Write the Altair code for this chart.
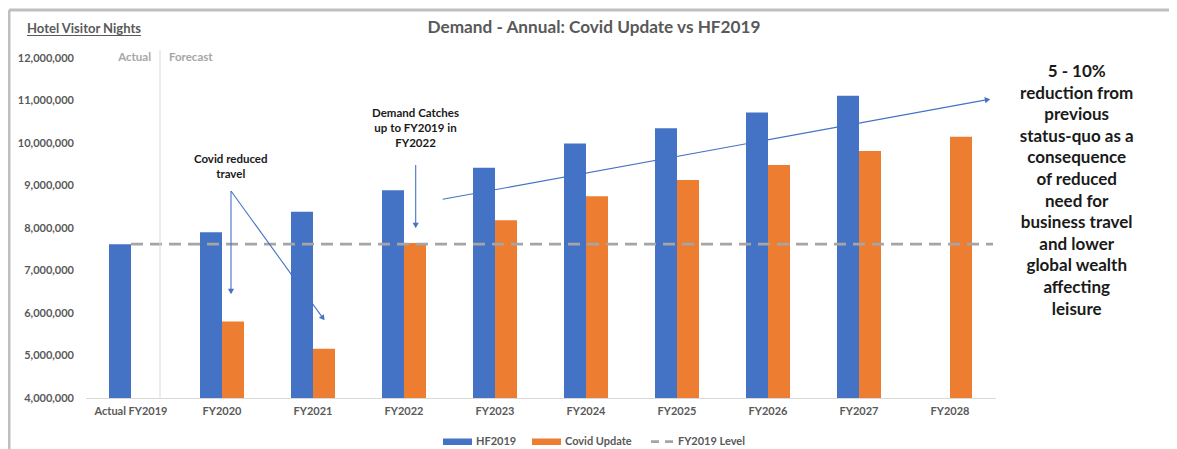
import math
import altair as alt
import pandas as pd

# ---------------- data ----------------
categories = ["Actual FY2019", "FY2020", "FY2021", "FY2022", "FY2023",
              "FY2024", "FY2025", "FY2026", "FY2027", "FY2028"]
series = ["HF2019", "Covid Update"]
hf2019 = [7620000, 7900000, 8380000, 8890000, 9420000,
          9990000, 10350000, 10720000, 11110000, None]
covid_update = [None, 5800000, 5160000, 7650000, 8180000,
                8750000, 9130000, 9480000, 9810000, 10150000]
fy2019_level = 7620000
level_label = "FY2019 Level"
y_ticks = [4000000, 5000000, 6000000, 7000000, 8000000,
           9000000, 10000000, 11000000, 12000000]

title_text = "Demand - Annual: Covid Update vs HF2019"
axis_title = "Hotel Visitor Nights"
actual_text = "Actual"
forecast_text = "Forecast"
note_covid = ["Covid reduced", "travel"]
note_catch = ["Demand Catches", "up to FY2019 in", "FY2022"]
note_right = ["5 - 10%", "reduction from", "previous", "status-quo as a",
              "consequence", "of reduced", "need for", "business travel",
              "and lower", "global wealth", "affecting", "leisure"]

# ---------------- styles / layout ----------------
COLORS = ["#4472C4", "#ED7D31"]
LEVEL_COLOR = "#A5A5A5"
GREY_TXT = "#595959"
FONT = "Lato"
W, H = 910, 340
OX, OY = 85.5, 58.0          # page position of the plot origin
TOTAL_W, TOTAL_H = 1161, 441
PAD = {"left": OX - 8, "top": OY - 8,
       "right": TOTAL_W - (OX - 8) - W, "bottom": TOTAL_H - (OY - 8) - H}


def px(x):
    return x - OX


def py(y):
    return y - OY


rows = []
for c, h, v in zip(categories, hf2019, covid_update):
    if h is not None:
        rows.append({"category": c, "series": series[0], "value": h})
    if v is not None:
        rows.append({"category": c, "series": series[1], "value": v})
bars_df = pd.DataFrame(rows)
level_df = pd.DataFrame({"category": [categories[0]], "level": [fy2019_level]})
dummy = pd.DataFrame({"k": [0]})

x_scale = alt.Scale(domain=categories, paddingInner=0.5165, paddingOuter=0.25825)
y_scale = alt.Scale(domain=[4000000, 12000000], zero=False, nice=False)

bars = alt.Chart(bars_df).mark_bar(clip=True).encode(
    x=alt.X("category:N", sort=categories, scale=x_scale,
            axis=alt.Axis(title=None, labelAngle=0, labelFont=FONT, labelFontSize=11,
                          labelFontWeight="bold", labelColor=GREY_TXT, ticks=False,
                          domainColor="#D9D9D9", domainWidth=1, labelPadding=7)),
    xOffset=alt.XOffset("series:N", sort=series,
                        scale=alt.Scale(domain=series, paddingInner=0, paddingOuter=0)),
    y=alt.Y("value:Q", scale=y_scale,
            axis=alt.Axis(title=None, values=y_ticks, format=",.0f", grid=False,
                          domain=False, ticks=False, labelPadding=12, labelFont=FONT,
                          labelFontSize=11, labelFontWeight="bold", labelColor=GREY_TXT)),
    color=alt.Color("series:N", scale=alt.Scale(domain=series, range=COLORS), legend=None),
)

level_rule = alt.Chart(level_df).mark_rule(
    color=LEVEL_COLOR, strokeWidth=2.75, strokeDash=[12, 7]
).encode(
    x=alt.X("category:N", sort=categories, scale=x_scale, bandPosition=0.5),
    x2=alt.value(px(993)),
    y=alt.Y("level:Q", scale=y_scale),
)


def rule(x1, y1, x2, y2, color, width=1.0, dash=None):
    kw = {"color": color, "strokeWidth": width}
    if dash:
        kw["strokeDash"] = dash
    return alt.Chart(dummy).mark_rule(**kw).encode(
        x=alt.value(px(x1)), y=alt.value(py(y1)),
        x2=alt.value(px(x2)), y2=alt.value(py(y2)))


def text(x, y, t, size, color, weight="bold", align="center", lh=None, baseline="middle"):
    # for multi-line texts y is the centre of the first line
    kw = dict(text=t, fontSize=size, color=color, fontWeight=weight, font=FONT,
              align=align, baseline=baseline)
    if lh:
        kw["lineHeight"] = lh
    return alt.Chart(dummy).mark_text(**kw).encode(x=alt.value(px(x)), y=alt.value(py(y)))


def arrow(x1, y1, x2, y2, color="#4472C4"):
    dx, dy = x2 - x1, y2 - y1
    ang = math.degrees(math.atan2(dx, -dy)) % 360
    L = math.hypot(dx, dy)
    hx, hy = x2 - dx / L * 3.5, y2 - dy / L * 3.5
    line = rule(x1, y1, hx, hy, color, 1.1)
    head = alt.Chart(dummy).mark_point(shape="triangle-up", filled=True, color=color,
                                       size=38, angle=ang, opacity=1).encode(
        x=alt.value(px(hx)), y=alt.value(py(hy)))
    return [line, head]


layers = [bars, level_rule]

# frame
layers.append(rule(9, 10, 1177, 10, "#BFBFBF", 3))
layers.append(rule(9, 10, 9, 449, "#BFBFBF", 3))
# actual / forecast divider
layers.append(rule(160, 50, 160, 398, "#D9D9D9", 1))

# texts
layers.append(text(594, 28, title_text, 17.2, GREY_TXT))
layers.append(text(27, 29, axis_title, 13, GREY_TXT, align="left"))
layers.append(rule(27, 35.5, 141, 35.5, GREY_TXT, 1))
layers.append(text(151, 58, actual_text, 11.5, "#A6A6A6", align="right"))
layers.append(text(169, 58, forecast_text, 11.5, "#A6A6A6", align="left"))
layers.append(text(230.7, 160, note_covid, 11.5, "#1A1A1A", lh=15))
layers.append(text(415.5, 114, note_catch, 11.5, "#1A1A1A", lh=15.2))
layers.append(text(1076.7, 72, note_right, 17, "#1A1A1A", lh=21.6))

# arrows
layers += arrow(231, 191, 231, 295)
layers += arrow(231, 191, 325, 321)
layers += arrow(415.7, 165, 415.7, 229)
layers += arrow(442.7, 199.3, 991, 99)

# legend
legend_items = series + [level_label]
legend_swatch_x = [443, 532, 651]
legend_text_x = [476, 565, 678]
for i, lab in enumerate(legend_items):
    sx = legend_swatch_x[i]
    if i < 2:
        layers.append(alt.Chart(dummy).mark_rect(color=COLORS[i]).encode(
            x=alt.value(px(sx)), x2=alt.value(px(sx + 29)),
            y=alt.value(py(438.5)), y2=alt.value(py(445))))
    else:
        layers.append(rule(sx, 441.7, sx + 22, 441.7, LEVEL_COLOR, 2.75, [8, 6]))
    layers.append(text(legend_text_x[i], 441.7, lab, 11, GREY_TXT, align="left"))

chart = alt.layer(*layers).properties(
    width=W, height=H, padding=PAD,
    autosize=alt.AutoSizeParams(type="none"),
    background="white",
).configure_view(stroke=None)

chart.save("out.html", embed_options={"renderer": "svg", "actions": False})
